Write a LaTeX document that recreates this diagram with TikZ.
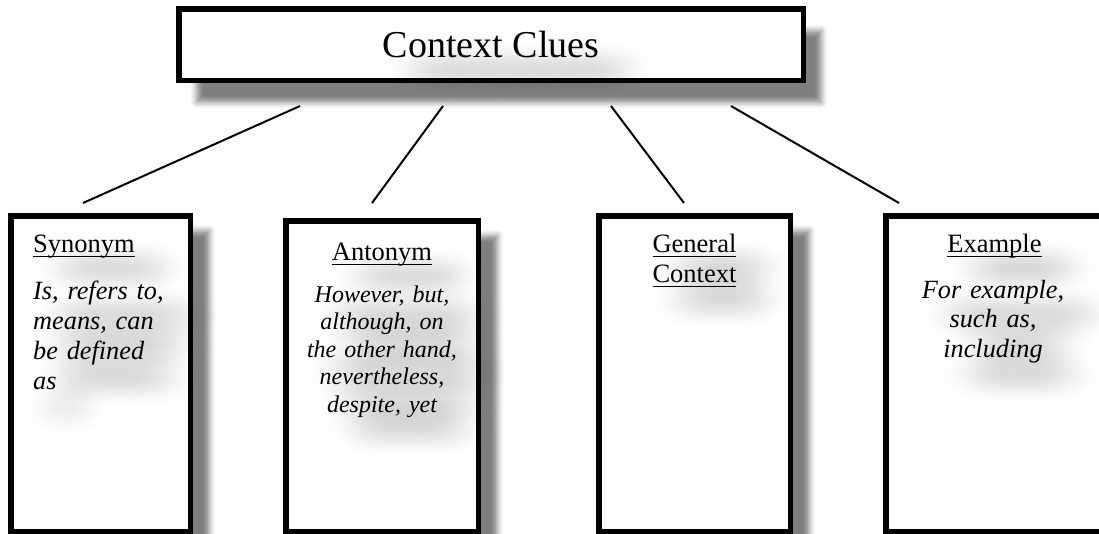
\documentclass[tikz,border=0pt]{standalone}
\usepackage{fontspec}
\setmainfont{Liberation Serif}
\usetikzlibrary{shadows.blur,fadings}

% word underline at a fixed depth below the baseline
\newcommand{\ulword}[1]{\leavevmode\setbox0=\hbox{#1}\rlap{\rule[-5.3pt]{\wd0}{1.5pt}}\box0}

% soft round spot: opaque centre, fully transparent at half the radius
\tikzfading[name=softspot, inner color=transparent!0, outer color=transparent!100]

% a soft grey text shadow along one line: from x #1 to x #2 at height #3
\newcommand{\smudgeline}[3]{%
  \pgfmathtruncatemacro{\nsm}{max(1,round((#2-#1)/12))}%
  \foreach \k in {0,...,\nsm}{%
    \fill[smudge] ({#1+(#2-#1)*\k/\nsm},#3) ellipse (40 and 28);}}

\tikzset{
  boxline/.style={draw=black, line width=5.5pt, fill=white, inner sep=0pt,
    outer sep=0pt, anchor=north west},
  titlepanel/.style={boxline, blur shadow={shadow xshift=18pt, shadow yshift=-22pt,
    shadow blur radius=6pt, shadow opacity=50}},
  panel/.style={boxline, blur shadow={shadow xshift=19pt, shadow yshift=-15pt,
    shadow blur radius=6pt, shadow opacity=50}},
  smudge/.style={fill=black, fill opacity=0.045, path fading=softspot},
  titletext/.style={inner sep=0pt, anchor=base,
    font=\fontsize{38}{44}\selectfont},
  head/.style={inner sep=0pt, anchor=base,
    font=\fontsize{26.5}{30}\selectfont},
  bodytext/.style={inner sep=0pt, anchor=base,
    font=\fontsize{26.3}{30.3}\selectfont\itshape},
  link/.style={line width=2pt},
}

\begin{document}
\begin{tikzpicture}[x=1pt, y=-1pt]
  \useasboundingbox (0,0) rectangle (1099,533);
  \clip (0,0) rectangle (1099,533);

  % title panel
  \node[titlepanel, minimum width=624.5pt, minimum height=71.5pt] (top) at (178.75,8.75) {};

  % four category panels
  \node[panel, minimum width=179.5pt, minimum height=315.75pt] (syn) at (10.75,215.75) {};
  \node[panel, minimum width=192.5pt, minimum height=310.75pt] (ant) at (285.75,220.75) {};
  \node[panel, minimum width=191.5pt, minimum height=315.75pt] (gen) at (598.75,215.75) {};
  \node[panel, minimum width=217.5pt, minimum height=315.75pt] (exa) at (885.75,215.75) {};

  % soft text shadows
  \smudgeline{420}{617}{70}
  \smudgeline{68}{155}{268}
  \smudgeline{68}{180}{315}
  \smudgeline{68}{171}{345}
  \smudgeline{68}{162}{376}
  \smudgeline{60}{72}{406}
  \smudgeline{367}{452}{276}
  \smudgeline{348}{465}{316}
  \smudgeline{357}{462}{344}
  \smudgeline{343}{473}{371}
  \smudgeline{354}{462}{399}
  \smudgeline{363}{455}{426}
  \smudgeline{687}{756}{268}
  \smudgeline{687}{756}{298}
  \smudgeline{982}{1061}{268}
  \smudgeline{957}{1082}{314}
  \smudgeline{985}{1055}{344}
  \smudgeline{978}{1062}{373}

  % title
  \node[titletext] (title) at (491,57) {Context Clues};

  % Synonym
  \node[head, anchor=base west] (synhead) at (33,252) {\ulword{Synonym}};
  \node[bodytext, anchor=base west, text width=170pt, align=left] (synbody) at (33,299)
    {Is, refers to,\\ means, can\\ be defined\\ as};

  % Antonym
  \node[head] (anthead) at (382,260) {\ulword{Antonym}};
  \node[bodytext, font=\fontsize{24}{27.5}\selectfont\itshape, text width=170pt, align=center]
    (antbody) at (382,302)
    {However, but,\\ although, on\\ the other hand,\\ nevertheless,\\ despite, yet};

  % General Context
  \node[head, text width=120pt, align=center] (genhead) at (694.5,252)
    {\ulword{General}\\ \ulword{Context}};

  % Example
  \node[head] (exahead) at (994.5,252) {\ulword{Example}};
  \node[bodytext, font=\fontsize{26.3}{29.5}\selectfont\itshape, text width=190pt, align=center]
    (exabody) at (993,298)
    {For example,\\ such as,\\ including};

  % connector end points
  \coordinate (l1a) at (300,106); \coordinate (l1b) at (83,203);
  \coordinate (l2a) at (443,106); \coordinate (l2b) at (372,203);
  \coordinate (l3a) at (611,106); \coordinate (l3b) at (684,203);
  \coordinate (l4a) at (731,106); \coordinate (l4b) at (899,203);

  \draw[link] (l1a) -- (l1b);
  \draw[link] (l2a) -- (l2b);
  \draw[link] (l3a) -- (l3b);
  \draw[link] (l4a) -- (l4b);
\end{tikzpicture}
\end{document}
